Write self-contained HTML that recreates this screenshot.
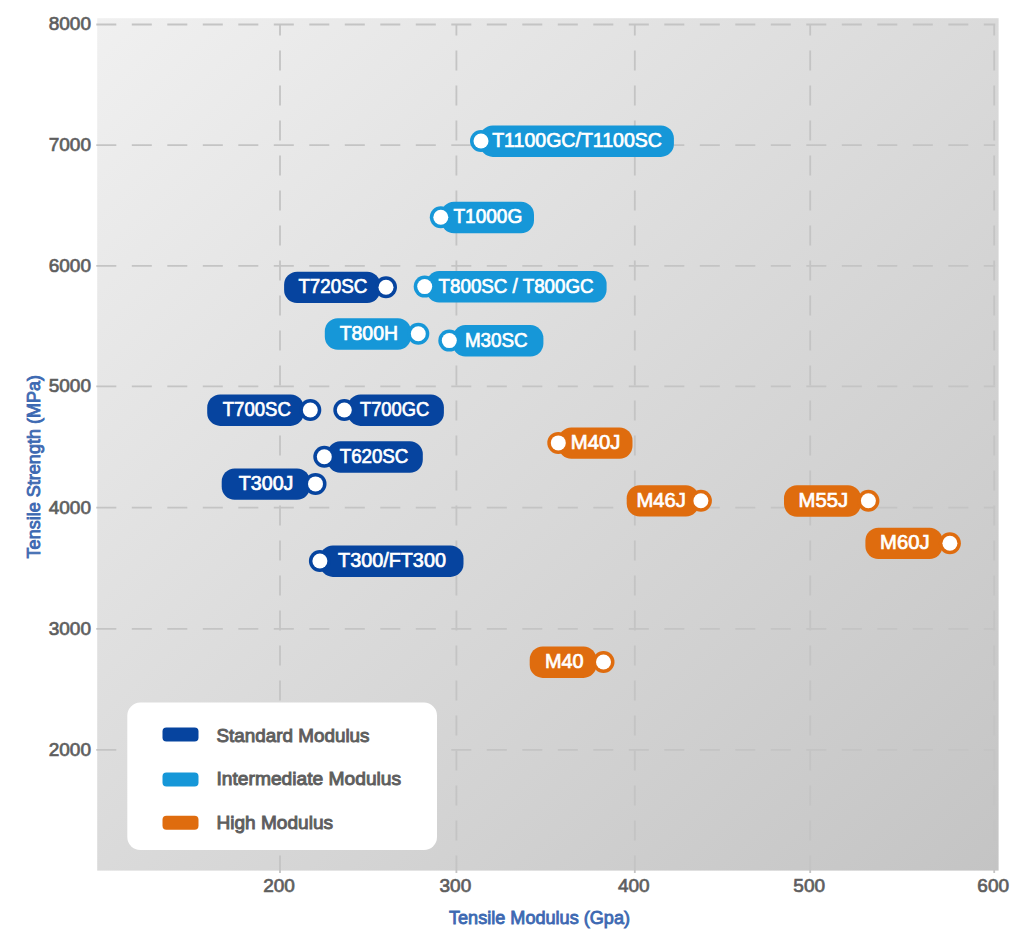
<!DOCTYPE html>
<html><head><meta charset="utf-8"><style>
html,body{margin:0;padding:0;background:#fff;width:1024px;height:951px;overflow:hidden}
svg{display:block;font-family:"Liberation Sans",sans-serif}
</style></head><body>
<svg width="1024" height="951" viewBox="0 0 1024 951">
<defs><linearGradient id="bg" x1="0" y1="0" x2="1" y2="1"><stop offset="0" stop-color="#f0f0f0"/><stop offset="1" stop-color="#c4c4c4"/></linearGradient></defs><rect x="97.2" y="18.2" width="901.4" height="852.4" fill="url(#bg)"/><line x1="96.3" y1="24.5" x2="995.2" y2="24.5" stroke="#c4c4c4" stroke-width="1.8" stroke-dasharray="20 15.5"/><line x1="96.3" y1="145.2" x2="995.2" y2="145.2" stroke="#c4c4c4" stroke-width="1.8" stroke-dasharray="20 15.5"/><line x1="96.3" y1="265.8" x2="995.2" y2="265.8" stroke="#c4c4c4" stroke-width="1.8" stroke-dasharray="20 15.5"/><line x1="96.3" y1="386.4" x2="995.2" y2="386.4" stroke="#c4c4c4" stroke-width="1.8" stroke-dasharray="20 15.5"/><line x1="96.3" y1="507.6" x2="995.2" y2="507.6" stroke="#c4c4c4" stroke-width="1.8" stroke-dasharray="20 15.5"/><line x1="96.3" y1="628.8" x2="995.2" y2="628.8" stroke="#c4c4c4" stroke-width="1.8" stroke-dasharray="20 15.5"/><line x1="96.3" y1="749.8" x2="995.2" y2="749.8" stroke="#c4c4c4" stroke-width="1.8" stroke-dasharray="20 15.5"/><line x1="280.0" y1="24.5" x2="280.0" y2="873" stroke="#c4c4c4" stroke-width="1.8" stroke-dasharray="20 15" stroke-dashoffset="9.1"/><line x1="456.4" y1="24.5" x2="456.4" y2="873" stroke="#c4c4c4" stroke-width="1.8" stroke-dasharray="20 15" stroke-dashoffset="9.1"/><line x1="634.8" y1="24.5" x2="634.8" y2="873" stroke="#c4c4c4" stroke-width="1.8" stroke-dasharray="20 15" stroke-dashoffset="9.1"/><line x1="810.2" y1="24.5" x2="810.2" y2="873" stroke="#c4c4c4" stroke-width="1.8" stroke-dasharray="20 15" stroke-dashoffset="9.1"/><line x1="994.2" y1="24.5" x2="994.2" y2="873" stroke="#c4c4c4" stroke-width="1.8" stroke-dasharray="20 15" stroke-dashoffset="9.1"/>
<rect x="127.3" y="702.6" width="309.7" height="147.39999999999998" rx="13" fill="#fff"/><rect x="162.5" y="727.5" width="36" height="14" rx="4" fill="#06449f"/><text x="216.5" y="741.8" font-size="19" fill="#5e5e5e" stroke="#5e5e5e" stroke-width="0.95" textLength="153" lengthAdjust="spacingAndGlyphs">Standard Modulus</text><rect x="162.5" y="772.6" width="36" height="14" rx="4" fill="#1697d8"/><text x="216.5" y="784.8" font-size="19" fill="#5e5e5e" stroke="#5e5e5e" stroke-width="0.95" textLength="184.6" lengthAdjust="spacingAndGlyphs">Intermediate Modulus</text><rect x="162.5" y="815.8" width="36" height="14" rx="4" fill="#df6c0e"/><text x="216.5" y="828.6" font-size="19" fill="#5e5e5e" stroke="#5e5e5e" stroke-width="0.95" textLength="116.5" lengthAdjust="spacingAndGlyphs">High Modulus</text>
<rect x="479.8" y="125.5" width="194.09999999999997" height="31.4" rx="13" fill="#1697d8"/><circle cx="481" cy="141" r="11" fill="#1697d8"/><circle cx="481" cy="141" r="7.5" fill="#fff"/><text x="492.2" y="146.9" font-size="19.3" fill="#fff" stroke="#fff" stroke-width="0.7" textLength="169.79999999999995" lengthAdjust="spacingAndGlyphs">T1100GC/T1100SC</text><rect x="441" y="201.8" width="93" height="31.4" rx="13" fill="#1697d8"/><circle cx="440.8" cy="217.3" r="11" fill="#1697d8"/><circle cx="440.8" cy="217.3" r="7.5" fill="#fff"/><text x="453.4" y="223.20000000000002" font-size="19.3" fill="#fff" stroke="#fff" stroke-width="0.7" textLength="68.90000000000005" lengthAdjust="spacingAndGlyphs">T1000G</text><rect x="426.2" y="271.1" width="180.40000000000003" height="31.4" rx="13" fill="#1697d8"/><circle cx="424.7" cy="286.6" r="11" fill="#1697d8"/><circle cx="424.7" cy="286.6" r="7.5" fill="#fff"/><text x="438.59999999999997" y="292.5" font-size="19.3" fill="#fff" stroke="#fff" stroke-width="0.7" textLength="155.0" lengthAdjust="spacingAndGlyphs">T800SC / T800GC</text><rect x="324.8" y="318.3" width="86.09999999999997" height="31.4" rx="13" fill="#1697d8"/><circle cx="418.3" cy="333.8" r="11" fill="#1697d8"/><circle cx="418.3" cy="333.8" r="7.5" fill="#fff"/><text x="339.7" y="339.7" font-size="19.3" fill="#fff" stroke="#fff" stroke-width="0.7" textLength="58.29999999999997" lengthAdjust="spacingAndGlyphs">T800H</text><rect x="452.5" y="325.1" width="90.89999999999998" height="31.4" rx="13" fill="#1697d8"/><circle cx="449.3" cy="340.6" r="11" fill="#1697d8"/><circle cx="449.3" cy="340.6" r="7.5" fill="#fff"/><text x="464.9" y="346.5" font-size="19.3" fill="#fff" stroke="#fff" stroke-width="0.7" textLength="62.7" lengthAdjust="spacingAndGlyphs">M30SC</text><rect x="284.1" y="271.7" width="96.09999999999997" height="31.4" rx="13" fill="#06449f"/><circle cx="386" cy="287.2" r="11" fill="#06449f"/><circle cx="386" cy="287.2" r="7.5" fill="#fff"/><text x="298.4" y="293.09999999999997" font-size="19.3" fill="#fff" stroke="#fff" stroke-width="0.7" textLength="68.89999999999999" lengthAdjust="spacingAndGlyphs">T720SC</text><rect x="207.2" y="394.5" width="96.5" height="31.4" rx="13" fill="#06449f"/><circle cx="310.3" cy="410" r="11" fill="#06449f"/><circle cx="310.3" cy="410" r="7.5" fill="#fff"/><text x="222.8" y="415.9" font-size="19.3" fill="#fff" stroke="#fff" stroke-width="0.7" textLength="67.99999999999999" lengthAdjust="spacingAndGlyphs">T700SC</text><rect x="347.6" y="394.5" width="96.29999999999995" height="31.4" rx="13" fill="#06449f"/><circle cx="344.3" cy="410" r="11" fill="#06449f"/><circle cx="344.3" cy="410" r="7.5" fill="#fff"/><text x="360.0" y="415.9" font-size="19.3" fill="#fff" stroke="#fff" stroke-width="0.7" textLength="69.2" lengthAdjust="spacingAndGlyphs">T700GC</text><rect x="327.3" y="441.3" width="95.5" height="31.4" rx="13" fill="#06449f"/><circle cx="324.3" cy="456.8" r="11" fill="#06449f"/><circle cx="324.3" cy="456.8" r="7.5" fill="#fff"/><text x="339.7" y="462.7" font-size="19.3" fill="#fff" stroke="#fff" stroke-width="0.7" textLength="68.7" lengthAdjust="spacingAndGlyphs">T620SC</text><rect x="221.7" y="468.4" width="88.30000000000001" height="31.4" rx="13" fill="#06449f"/><circle cx="315.5" cy="483.9" r="11" fill="#06449f"/><circle cx="315.5" cy="483.9" r="7.5" fill="#fff"/><text x="238.8" y="489.79999999999995" font-size="19.3" fill="#fff" stroke="#fff" stroke-width="0.7" textLength="54.60000000000001" lengthAdjust="spacingAndGlyphs">T300J</text><rect x="319.9" y="545.5" width="143.60000000000002" height="31.4" rx="13" fill="#06449f"/><circle cx="319.9" cy="561" r="11" fill="#06449f"/><circle cx="319.9" cy="561" r="7.5" fill="#fff"/><text x="338.09999999999997" y="566.9" font-size="19.3" fill="#fff" stroke="#fff" stroke-width="0.7" textLength="107.80000000000003" lengthAdjust="spacingAndGlyphs">T300/FT300</text><rect x="558.4" y="427.4" width="74.10000000000002" height="31.4" rx="13" fill="#df6c0e"/><circle cx="558.3" cy="442.9" r="11" fill="#df6c0e"/><circle cx="558.3" cy="442.9" r="7.5" fill="#fff"/><text x="570.8" y="448.79999999999995" font-size="19.3" fill="#fff" stroke="#fff" stroke-width="0.7" textLength="49.59999999999998" lengthAdjust="spacingAndGlyphs">M40J</text><rect x="626.7" y="485.2" width="72.09999999999991" height="31.4" rx="13" fill="#df6c0e"/><circle cx="700.9" cy="500.7" r="11" fill="#df6c0e"/><circle cx="700.9" cy="500.7" r="7.5" fill="#fff"/><text x="636.4" y="506.59999999999997" font-size="19.3" fill="#fff" stroke="#fff" stroke-width="0.7" textLength="49.49999999999996" lengthAdjust="spacingAndGlyphs">M46J</text><rect x="784" y="485.3" width="77.0" height="31.4" rx="13" fill="#df6c0e"/><circle cx="868.4" cy="500.8" r="11" fill="#df6c0e"/><circle cx="868.4" cy="500.8" r="7.5" fill="#fff"/><text x="798.5" y="506.7" font-size="19.3" fill="#fff" stroke="#fff" stroke-width="0.7" textLength="49.59999999999998" lengthAdjust="spacingAndGlyphs">M55J</text><rect x="865.4" y="527.7" width="77.10000000000002" height="31.4" rx="13" fill="#df6c0e"/><circle cx="949.9" cy="543.2" r="11" fill="#df6c0e"/><circle cx="949.9" cy="543.2" r="7.5" fill="#fff"/><text x="880.1" y="549.1" font-size="19.3" fill="#fff" stroke="#fff" stroke-width="0.7" textLength="49.49999999999996" lengthAdjust="spacingAndGlyphs">M60J</text><rect x="529.7" y="646.5" width="66.79999999999995" height="31.4" rx="13" fill="#df6c0e"/><circle cx="603.5" cy="662" r="11" fill="#df6c0e"/><circle cx="603.5" cy="662" r="7.5" fill="#fff"/><text x="544.9" y="667.9" font-size="19.3" fill="#fff" stroke="#fff" stroke-width="0.7" textLength="38.7" lengthAdjust="spacingAndGlyphs">M40</text>
<text x="91" y="30.4" text-anchor="end" font-size="19" fill="#5e5e5e" stroke="#5e5e5e" stroke-width="0.7">8000</text><text x="91" y="151.1" text-anchor="end" font-size="19" fill="#5e5e5e" stroke="#5e5e5e" stroke-width="0.7">7000</text><text x="91" y="271.7" text-anchor="end" font-size="19" fill="#5e5e5e" stroke="#5e5e5e" stroke-width="0.7">6000</text><text x="91" y="392.29999999999995" text-anchor="end" font-size="19" fill="#5e5e5e" stroke="#5e5e5e" stroke-width="0.7">5000</text><text x="91" y="513.5" text-anchor="end" font-size="19" fill="#5e5e5e" stroke="#5e5e5e" stroke-width="0.7">4000</text><text x="91" y="634.6999999999999" text-anchor="end" font-size="19" fill="#5e5e5e" stroke="#5e5e5e" stroke-width="0.7">3000</text><text x="91" y="755.6999999999999" text-anchor="end" font-size="19" fill="#5e5e5e" stroke="#5e5e5e" stroke-width="0.7">2000</text><text x="279.0" y="892.3" text-anchor="middle" font-size="19" fill="#5e5e5e" stroke="#5e5e5e" stroke-width="0.7">200</text><text x="455.4" y="892.3" text-anchor="middle" font-size="19" fill="#5e5e5e" stroke="#5e5e5e" stroke-width="0.7">300</text><text x="633.8" y="892.3" text-anchor="middle" font-size="19" fill="#5e5e5e" stroke="#5e5e5e" stroke-width="0.7">400</text><text x="809.2" y="892.3" text-anchor="middle" font-size="19" fill="#5e5e5e" stroke="#5e5e5e" stroke-width="0.7">500</text><text x="993.2" y="892.3" text-anchor="middle" font-size="19" fill="#5e5e5e" stroke="#5e5e5e" stroke-width="0.7">600</text>
<text x="449" y="923.9" font-size="18" fill="#3d69b2" stroke="#3d69b2" stroke-width="0.85" textLength="181" lengthAdjust="spacingAndGlyphs">Tensile Modulus (Gpa)</text><text transform="translate(39.6 558.4) rotate(-90)" x="0" y="0" font-size="18" fill="#3d69b2" stroke="#3d69b2" stroke-width="0.85" textLength="183.5" lengthAdjust="spacingAndGlyphs">Tensile Strength (MPa)</text>
</svg>
</body></html>
